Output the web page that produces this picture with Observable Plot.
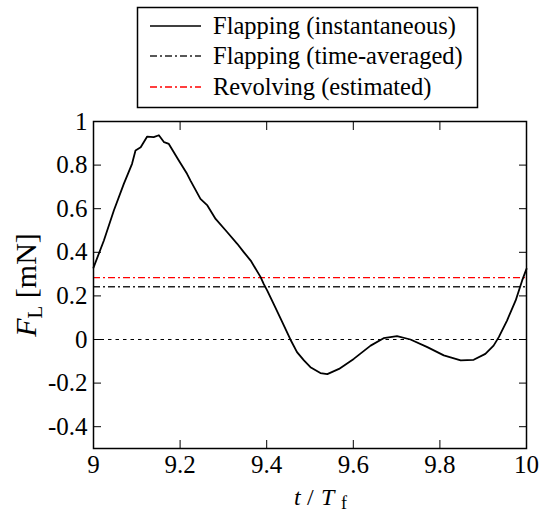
<!DOCTYPE html>
<html><head><meta charset="utf-8">
<script src="https://cdn.jsdelivr.net/npm/d3@7"></script>
<script src="https://cdn.jsdelivr.net/npm/@observablehq/plot@0.6"></script>
<style>
body{margin:0;background:#fff;}
#wrap{position:relative;width:541px;height:515px;}
</style>
</head><body><div id="wrap"></div>
<script>
// Flapping (instantaneous) lift force over one cycle
const tValues = [9.000,9.024,9.047,9.070,9.089,9.097,9.109,9.124,9.139,9.151,9.163,9.174,9.197,9.216,9.224,9.247,9.263,9.282,9.309,9.332,9.347,9.363,9.386,9.393,9.401,9.416,9.436,9.455,9.470,9.486,9.501,9.524,9.540,9.567,9.601,9.640,9.670,9.701,9.732,9.771,9.809,9.848,9.878,9.905,9.924,9.936,9.955,9.975,9.990,10.000];
const fValues = [0.330,0.454,0.592,0.714,0.806,0.867,0.882,0.931,0.928,0.937,0.905,0.897,0.821,0.760,0.729,0.645,0.615,0.553,0.492,0.439,0.401,0.362,0.286,0.255,0.225,0.163,0.080,-0.001,-0.058,-0.096,-0.127,-0.154,-0.159,-0.135,-0.089,-0.028,0.006,0.015,0.000,-0.035,-0.073,-0.096,-0.093,-0.066,-0.028,0.011,0.087,0.179,0.271,0.324];
const flappingAvg = 0.242;   // time-averaged
const revolvingEst = 0.284;  // revolving (estimated)
const zeroLevel = 0;
const xTicks = [9, 9.2, 9.4, 9.6, 9.8, 10];
const yTicks = [-0.4, -0.2, 0, 0.2, 0.4, 0.6, 0.8, 1];
const legendLabels = ["Flapping (instantaneous)", "Flapping (time-averaged)", "Revolving (estimated)"];

const curve = tValues.map((t, i) => ({t, f: fValues[i]}));
const dashDot = "7,3,2,3";
const SERIF = "Liberation Serif";

const plot = Plot.plot({
  width: 541, height: 515,
  marginLeft: 93, marginRight: 15, marginTop: 121, marginBottom: 67,
  style: {background: "#fff", overflow: "visible", fontSize: "25px", fontFamily: SERIF},
  x: {domain: [9, 10]},
  y: {domain: [-0.5, 1]},
  marks: [
    Plot.ruleY([zeroLevel], {stroke: "#000", strokeWidth: 1, strokeDasharray: "3.5,4"}),
    Plot.ruleY([flappingAvg], {stroke: "#222", strokeWidth: 1.3, strokeDasharray: dashDot}),
    Plot.ruleY([revolvingEst], {stroke: "#ff0000", strokeWidth: 1.3, strokeDasharray: dashDot}),
    Plot.line(curve, {x: "t", y: "f", stroke: "#000", strokeWidth: 1.8}),
    Plot.axisX({anchor: "bottom", ticks: xTicks, tickFormat: d => String(d), tickSize: -8, tickPadding: 15, label: null, fontSize: 25, fill: "#000"}),
    Plot.axisX({anchor: "top", ticks: xTicks, tickFormat: () => "", tickSize: -8, label: null}),
    Plot.axisY({anchor: "left", ticks: yTicks, tickFormat: d => String(d), tickSize: -8, tickPadding: 14, label: null, fontSize: 25, fill: "#000"}),
    Plot.axisY({anchor: "right", ticks: yTicks, tickFormat: () => "", tickSize: -8, label: null}),
    Plot.frame({stroke: "#000", strokeWidth: 1.5})
  ]
});
document.getElementById("wrap").appendChild(plot);

const svg = d3.select(plot);

// axis titles
const yl = svg.append("text")
  .attr("transform", "translate(36,285) rotate(-90)")
  .attr("text-anchor", "middle").attr("font-size", 30).attr("fill", "#000").attr("font-family", SERIF);
yl.append("tspan").attr("font-style", "italic").text("F");
yl.append("tspan").attr("font-size", 21).attr("dy", 6).text("L");
yl.append("tspan").attr("dy", -6).text(" [mN]");

const xl = svg.append("text")
  .attr("y", 505).attr("text-anchor", "start").attr("font-size", 24).attr("fill", "#000").attr("font-family", SERIF);
xl.append("tspan").attr("x", 294).attr("font-style", "italic").text("t");
xl.append("tspan").attr("x", 307).text("/");
xl.append("tspan").attr("x", 321).attr("font-style", "italic").text("T");
xl.append("tspan").attr("x", 341).attr("font-size", 18).attr("dy", 4).text("f");

// legend
const lg = svg.append("g");
lg.append("rect").attr("x", 137.5).attr("y", 7.5).attr("width", 340).attr("height", 100)
  .attr("fill", "#fff").attr("stroke", "#000").attr("stroke-width", 1.5);
const styles = [
  {stroke: "#000", dash: null},
  {stroke: "#222", dash: dashDot},
  {stroke: "#ff0000", dash: dashDot}
];
const rowY = [26, 56, 87];
legendLabels.forEach((lab, i) => {
  lg.append("line").attr("x1", 150).attr("x2", 201).attr("y1", rowY[i]).attr("y2", rowY[i])
    .attr("stroke", styles[i].stroke).attr("stroke-width", 1.3)
    .attr("stroke-dasharray", styles[i].dash);
  lg.append("text").attr("x", 213).attr("y", rowY[i] + 8).attr("font-size", 24.5)
    .attr("text-anchor", "start").attr("fill", "#000").attr("font-family", SERIF).text(lab);
});
</script>
</body></html>
